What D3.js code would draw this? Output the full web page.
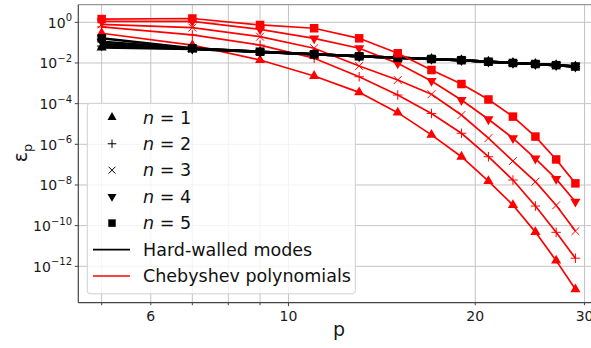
<!DOCTYPE html>
<html>
<head>
<meta charset="utf-8">
<script src="https://cdn.jsdelivr.net/npm/d3@7"></script>
<style>
html,body{margin:0;padding:0;background:#fff;}
svg{display:block;font-family:"DejaVu Sans",sans-serif;}
</style>
</head>
<body>
<svg id="chart" width="591" height="348"></svg>
<script>
// ---- data ----
const pValues = [5, 7, 9, 11, 13, 15, 17, 19, 21, 23, 25, 27, 29];

const chebN1 = [0.29, 0.076, 0.014, 2.3e-3, 3.6e-4, 3.6e-5, 2.9e-6, 2.45e-7, 1.56e-8, 1.03e-9, 4.8e-11, 1.9e-12, 7.4e-14];
const chebN2 = [0.59, 0.24, 0.076, 0.017, 2.1e-3, 2.65e-4, 3.3e-5, 3.5e-6, 2.45e-7, 1.75e-8, 9.2e-10, 4.7e-11, 2.5e-12];
const chebN3 = [0.80, 0.55, 0.196, 0.053, 7.1e-3, 1.45e-3, 2.9e-4, 2.75e-5, 2.0e-6, 1.5e-7, 1.45e-8, 1.0e-9, 5.4e-11];
const chebN4 = [1.1, 1.1, 0.45, 0.163, 0.053, 9.6e-3, 1.3e-3, 1.5e-4, 1.7e-5, 2.0e-6, 2.0e-7, 2.0e-8, 1.5e-9];
const chebN5 = [1.45, 1.54, 0.74, 0.51, 0.163, 0.030, 4.5e-3, 9.2e-4, 1.6e-4, 2.3e-5, 2.4e-6, 1.8e-7, 1.2e-8];

const hardN1 = [0.058, 0.048, 0.035, 0.027, 0.0215, 0.018, 0.0158, 0.0138, 0.0116, 0.0101, 0.0090, 0.0079, 0.0068];
const hardN2 = [0.068, 0.049, 0.035, 0.0268, 0.0214, 0.018, 0.0157, 0.0137, 0.0116, 0.0100, 0.0089, 0.0078, 0.0067];
const hardN3 = [0.085, 0.050, 0.0355, 0.0268, 0.0214, 0.0179, 0.0157, 0.0137, 0.0115, 0.0100, 0.0089, 0.0078, 0.0067];
const hardN4 = [0.11, 0.051, 0.0357, 0.0267, 0.0213, 0.0179, 0.0157, 0.0137, 0.0115, 0.0100, 0.0089, 0.0078, 0.0067];
const hardN5 = [0.163, 0.0526, 0.0358, 0.0267, 0.0213, 0.0179, 0.0157, 0.0137, 0.0115, 0.0100, 0.0089, 0.0078, 0.0067];

const nLabels = ["1", "2", "3", "4", "5"];
const markerTypes = ["triUp", "plus", "cross", "triDown", "square"];
const xTickValues = [6, 10, 20, 30];
const xGridValues = [5, 6, 7, 8, 9, 10, 20, 30];
const yTickExponents = [0, -2, -4, -6, -8, -10, -12];
const legendLineLabels = ["Hard-walled modes", "Chebyshev polynomials"];

const chebSeries = [chebN1, chebN2, chebN3, chebN4, chebN5];
const hardSeries = [hardN1, hardN2, hardN3, hardN4, hardN5];

// ---- layout ----
const svg = d3.select("#chart");
const PL = 78.3, PR = 600, PT = 4.7, PB = 302.7;

const x = d3.scaleLog().domain([4.585, 31.77]).range([PL, PR]);
const y = d3.scaleLog().domain([Math.pow(10, -13.79), Math.pow(10, 0.866)]).range([PB, PT]);

const RED = "#ff0000";
const GRID = "#c4c4c4";

svg.append("clipPath").attr("id", "clip").append("rect")
  .attr("x", PL).attr("y", PT).attr("width", PR - PL).attr("height", PB - PT);

// grid
const grid = svg.append("g");
grid.selectAll("line.vx").data(xGridValues).join("line")
  .attr("x1", d => x(d)).attr("x2", d => x(d)).attr("y1", PT).attr("y2", PB)
  .attr("stroke", GRID).attr("stroke-width", 1);
grid.selectAll("line.hy").data(yTickExponents).join("line")
  .attr("y1", d => y(Math.pow(10, d))).attr("y2", d => y(Math.pow(10, d)))
  .attr("x1", PL).attr("x2", PR)
  .attr("stroke", GRID).attr("stroke-width", 1);

// markers
function drawMarker(g, type, cx, cy, color, s) {
  if (type === "square") {
    g.append("rect").attr("x", cx - s / 2).attr("y", cy - s / 2).attr("width", s).attr("height", s).attr("fill", color);
  } else if (type === "triUp" || type === "triDown") {
    const sym = d3.symbol().type(d3.symbolTriangle).size(s * s * 0.62);
    g.append("path").attr("d", sym())
      .attr("transform", `translate(${cx},${cy})` + (type === "triDown" ? " rotate(180)" : ""))
      .attr("fill", color);
  } else if (type === "plus") {
    const h = s / 2 + 0.5;
    g.append("path").attr("d", `M${cx - h},${cy}H${cx + h}M${cx},${cy - h}V${cy + h}`)
      .attr("stroke", color).attr("stroke-width", 1).attr("fill", "none");
  } else if (type === "cross") {
    const h = s / 2 - 0.3;
    g.append("path").attr("d", `M${cx - h},${cy - h}L${cx + h},${cy + h}M${cx - h},${cy + h}L${cx + h},${cy - h}`)
      .attr("stroke", color).attr("stroke-width", 1).attr("fill", "none");
  }
}

const plot = svg.append("g").attr("clip-path", "url(#clip)");
const line = d3.line().x(d => x(d[0])).y(d => y(d[1]));

for (let i = 0; i < 5; i++) {
  const hd = pValues.map((p, j) => [p, hardSeries[i][j]]);
  const cd = pValues.map((p, j) => [p, chebSeries[i][j]]);
  plot.append("path").datum(hd).attr("d", line).attr("fill", "none")
    .attr("stroke", "#000").attr("stroke-width", 2.5);
  hd.forEach(d => drawMarker(plot, markerTypes[i], x(d[0]), y(d[1]), "#000", 8.5));
  plot.append("path").datum(cd).attr("d", line).attr("fill", "none")
    .attr("stroke", RED).attr("stroke-width", 1.7);
  cd.forEach(d => drawMarker(plot, markerTypes[i], x(d[0]), y(d[1]), RED, 8.5));
}

// spines
svg.append("line").attr("x1", PL).attr("x2", PR).attr("y1", PT).attr("y2", PT)
  .attr("stroke", "#999").attr("stroke-width", 1.2);
svg.append("line").attr("x1", PL).attr("x2", PL).attr("y1", PT).attr("y2", PB)
  .attr("stroke", "#444").attr("stroke-width", 1.2);
svg.append("line").attr("x1", PL).attr("x2", PR).attr("y1", PB).attr("y2", PB)
  .attr("stroke", "#444").attr("stroke-width", 1.2);

// x ticks
const xt = svg.append("g");
xGridValues.forEach(v => {
  const major = v === 10;
  xt.append("line").attr("x1", x(v)).attr("x2", x(v)).attr("y1", PB).attr("y2", PB + (major ? 3.5 : 2.5))
    .attr("stroke", "#444").attr("stroke-width", 1);
});
xt.selectAll("text").data(xTickValues).join("text")
  .attr("x", d => x(d)).attr("y", 320.5).attr("text-anchor", "middle")
  .attr("font-size", 14).attr("fill", "#1a1a1a").text(d => d);

// y ticks
const yt = svg.append("g");
yTickExponents.forEach(e => {
  const yy = y(Math.pow(10, e));
  yt.append("line").attr("x1", PL - 3.5).attr("x2", PL).attr("y1", yy).attr("y2", yy)
    .attr("stroke", "#444").attr("stroke-width", 1);
  const t = yt.append("text").attr("x", 72).attr("y", yy + 5.5).attr("text-anchor", "end")
    .attr("font-size", 14).attr("fill", "#1a1a1a");
  t.append("tspan").text("10");
  t.append("tspan").attr("dy", -6.5).attr("font-size", 10).text(e === 0 ? "0" : "\u2212" + Math.abs(e));
});

// axis labels
svg.append("text").attr("x", 339).attr("y", 335.5).attr("text-anchor", "middle")
  .attr("font-size", 19).attr("fill", "#1a1a1a").text("p");
const yl = svg.append("text").attr("transform", "translate(27,153) rotate(-90)")
  .attr("text-anchor", "middle").attr("font-size", 19).attr("fill", "#1a1a1a");
yl.append("tspan").text("\u03b5");
yl.append("tspan").attr("dy", 4.5).attr("font-size", 13).text("p");

// legend
const lg = svg.append("g");
lg.append("rect").attr("x", 87.3).attr("y", 103.3).attr("width", 268).attr("height", 190.5)
  .attr("rx", 3).attr("fill", "#fff").attr("fill-opacity", 0.8).attr("stroke", "#d0d0d0").attr("stroke-width", 1);
const rowY = d3.range(7).map(i => 117.3 + i * 26.45);
for (let i = 0; i < 5; i++) {
  drawMarker(lg, markerTypes[i], 112, rowY[i], "#000", 7.5);
  const t = lg.append("text").attr("x", 143).attr("y", rowY[i] + 6.2).attr("font-size", 17.5).attr("fill", "#111");
  t.append("tspan").attr("font-style", "italic").text("n");
  t.append("tspan").text(" = " + nLabels[i]);
}
["#000", RED].forEach((c, k) => {
  const yy = rowY[5 + k];
  lg.append("line").attr("x1", 93).attr("x2", 130).attr("y1", yy).attr("y2", yy)
    .attr("stroke", c).attr("stroke-width", 1.7);
  lg.append("text").attr("x", 143).attr("y", yy + 6.2).attr("font-size", 17.5).attr("fill", "#111")
    .text(legendLineLabels[k]);
});
</script>
</body>
</html>
